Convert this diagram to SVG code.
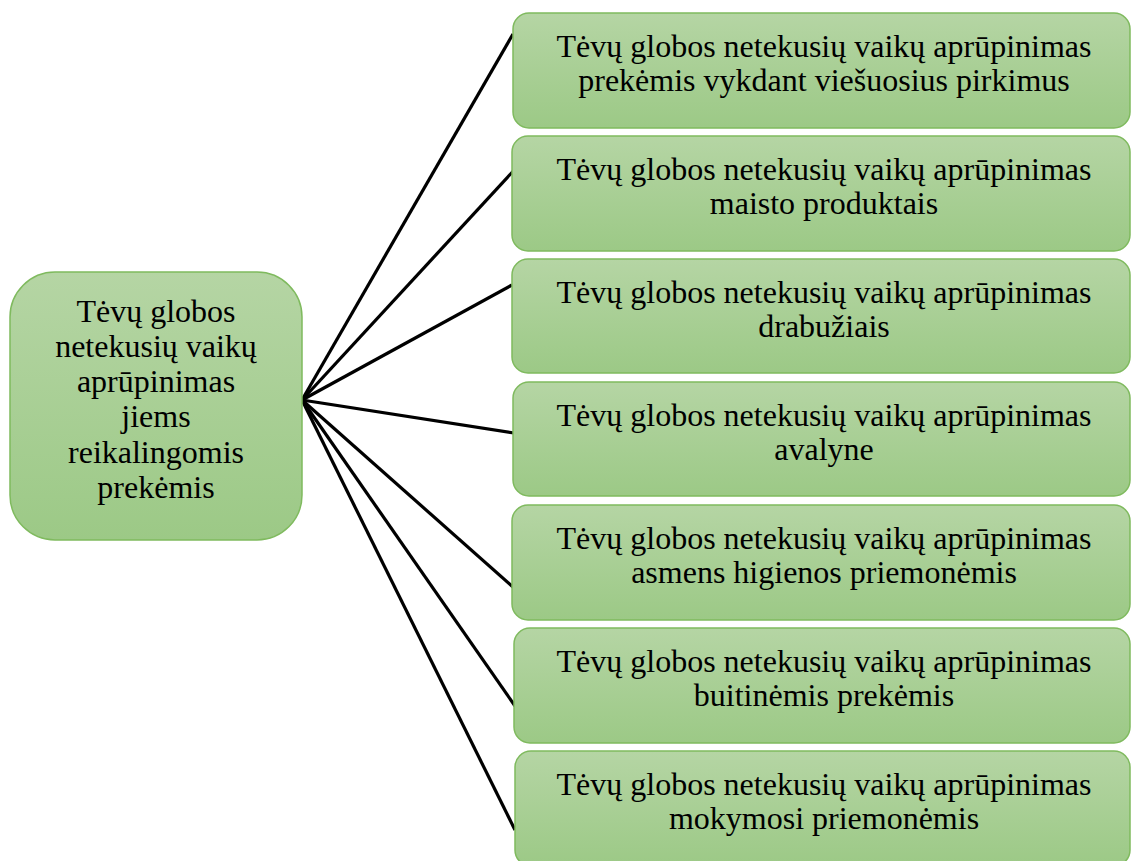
<svg xmlns="http://www.w3.org/2000/svg" width="1131" height="861" viewBox="0 0 1131 861">
<defs>
<linearGradient id="g" x1="0" y1="0" x2="0" y2="1">
<stop offset="0" stop-color="#b5d5a4"/>
<stop offset="1" stop-color="#9cc986"/>
</linearGradient>
<style>
.box{fill:url(#g);stroke:#7fba5e;stroke-width:1.5}
.t{font-family:"Liberation Serif","Times New Roman",serif;font-size:32px;fill:#000;text-anchor:middle}
.c{stroke:#000;stroke-width:3.2;fill:none}
</style>
</defs>
<rect width="1131" height="861" fill="#fff"/>
<g id="connectors">
<line class="c" x1="302" y1="400" x2="513" y2="34"/>
<line class="c" x1="302" y1="400" x2="517" y2="167"/>
<line class="c" x1="302" y1="400" x2="512" y2="285"/>
<line class="c" x1="302" y1="400" x2="514" y2="433"/>
<line class="c" x1="302" y1="400" x2="513" y2="587"/>
<line class="c" x1="302" y1="400" x2="515" y2="706"/>
<line class="c" x1="302" y1="400" x2="515" y2="830"/>
</g>
<g id="main">
<rect class="box" x="10" y="272" width="292" height="268" rx="45"/>
<text class="t" x="156" y="322">Tėvų globos</text>
<text class="t" x="156" y="357">netekusių vaikų</text>
<text class="t" x="156" y="392">aprūpinimas</text>
<text class="t" x="156" y="427">jiems</text>
<text class="t" x="156" y="463">reikalingomis</text>
<text class="t" x="156" y="498">prekėmis</text>
</g>
<g id="n1">
<rect class="box" x="513" y="13" width="617" height="115" rx="16"/>
<text class="t" x="824" y="57">Tėvų globos netekusių vaikų aprūpinimas</text>
<text class="t" x="824" y="91">prekėmis vykdant viešuosius pirkimus</text>
</g>
<g id="n2">
<rect class="box" x="512" y="136" width="618" height="115" rx="16"/>
<text class="t" x="824" y="180">Tėvų globos netekusių vaikų aprūpinimas</text>
<text class="t" x="824" y="214">maisto produktais</text>
</g>
<g id="n3">
<rect class="box" x="512" y="259" width="618" height="114" rx="16"/>
<text class="t" x="824" y="303">Tėvų globos netekusių vaikų aprūpinimas</text>
<text class="t" x="824" y="337">drabužiais</text>
</g>
<g id="n4">
<rect class="box" x="513" y="382" width="617" height="114" rx="16"/>
<text class="t" x="824" y="426">Tėvų globos netekusių vaikų aprūpinimas</text>
<text class="t" x="824" y="460">avalyne</text>
</g>
<g id="n5">
<rect class="box" x="512" y="505" width="618" height="115" rx="16"/>
<text class="t" x="824" y="549">Tėvų globos netekusių vaikų aprūpinimas</text>
<text class="t" x="824" y="583">asmens higienos priemonėmis</text>
</g>
<g id="n6">
<rect class="box" x="514" y="628" width="616" height="115" rx="16"/>
<text class="t" x="824" y="672">Tėvų globos netekusių vaikų aprūpinimas</text>
<text class="t" x="824" y="706">buitinėmis prekėmis</text>
</g>
<g id="n7">
<rect class="box" x="515" y="751" width="615" height="115" rx="16"/>
<text class="t" x="824" y="795">Tėvų globos netekusių vaikų aprūpinimas</text>
<text class="t" x="824" y="829">mokymosi priemonėmis</text>
</g>
</svg>
